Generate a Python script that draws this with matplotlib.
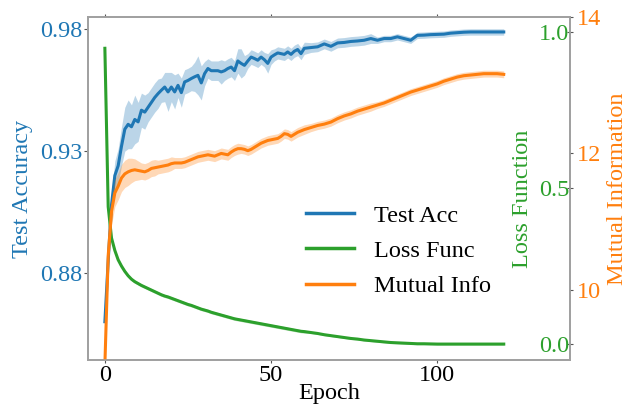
import matplotlib
matplotlib.use("Agg")
import matplotlib.pyplot as plt
import numpy as np

plt.rcParams['font.family'] = 'serif'
plt.rcParams['font.serif'] = ['Liberation Serif', 'DejaVu Serif']
plt.rcParams['mathtext.fontset'] = 'stix'

# ---- data ----
epochs = list(range(0, 61)) + list(range(62, 121, 2))

test_acc = [0.860, 0.885, 0.908, 0.920, 0.924, 0.932, 0.939, 0.941, 0.940, 0.943,
            0.942, 0.9468, 0.946, 0.948, 0.950, 0.952, 0.9536, 0.955, 0.9563, 0.9543,
            0.9563, 0.9543, 0.957, 0.954, 0.9584, 0.959, 0.9598, 0.9605, 0.9611, 0.958,
            0.9618, 0.9639, 0.963, 0.963, 0.963, 0.9625, 0.963, 0.9639, 0.9645, 0.963,
            0.967, 0.966, 0.9652, 0.967, 0.9686, 0.968, 0.9673, 0.9686, 0.9675, 0.966,
            0.9686, 0.9695, 0.9703, 0.970, 0.9697, 0.9707, 0.9697, 0.971, 0.9717, 0.970,
            0.9722,
            0.9725, 0.9728, 0.974, 0.973, 0.9744, 0.9746, 0.975, 0.9752, 0.9755, 0.9762,
            0.9755, 0.9762, 0.9762, 0.9769, 0.9762, 0.9755, 0.9775, 0.9776, 0.9778, 0.9779,
            0.978, 0.9784, 0.9786, 0.9788, 0.9789, 0.9789, 0.9789, 0.9789, 0.9789, 0.9789]

test_acc_err = [0.001, 0.003, 0.005, 0.006, 0.007, 0.008, 0.009, 0.010, 0.009, 0.010,
                0.008, 0.007, 0.007, 0.006, 0.006, 0.006, 0.006, 0.005, 0.006, 0.008,
                0.006, 0.007, 0.005, 0.006, 0.005, 0.005, 0.005, 0.006, 0.008, 0.007,
                0.005, 0.004, 0.004, 0.004, 0.004, 0.005, 0.004, 0.004, 0.004, 0.004,
                0.005, 0.006, 0.004, 0.003, 0.003, 0.003, 0.003, 0.003, 0.003, 0.004,
                0.003, 0.0025, 0.0025, 0.0025, 0.0025, 0.0025, 0.0025, 0.0025, 0.0025, 0.0025,
                0.0025,
                0.002, 0.002, 0.002, 0.002, 0.002, 0.002, 0.002, 0.002, 0.002, 0.002,
                0.0013, 0.0013, 0.0013, 0.0013, 0.0013, 0.0013, 0.0013, 0.0013, 0.0013, 0.0013,
                0.0013, 0.0013, 0.0013, 0.0013, 0.0013, 0.0013, 0.0013, 0.0013, 0.0013, 0.0013]

loss = [0.948, 0.44, 0.34, 0.30, 0.27, 0.25, 0.233, 0.219, 0.208, 0.200,
        0.194, 0.188, 0.183, 0.178, 0.173, 0.168, 0.163, 0.158, 0.154, 0.151,
        0.147, 0.143, 0.139, 0.135, 0.131, 0.127, 0.124, 0.120, 0.116, 0.112,
        0.109, 0.106, 0.102, 0.099, 0.096, 0.093, 0.090, 0.087, 0.084, 0.081,
        0.079, 0.077, 0.075, 0.073, 0.071, 0.069, 0.067, 0.065, 0.063, 0.061,
        0.059, 0.057, 0.055, 0.053, 0.051, 0.049, 0.047, 0.045, 0.043, 0.041,
        0.040,
        0.037, 0.034, 0.030, 0.027, 0.024, 0.021, 0.018, 0.016, 0.013, 0.011,
        0.009, 0.007, 0.005, 0.004, 0.003, 0.002, 0.001, 0.001, 0.0005, 0.0,
        0.0, 0.0, 0.0, 0.0, 0.0, 0.0, 0.0, 0.0, 0.0, 0.0]

loss_err = [0.025, 0.01] + [0.005] * 59 + [0.003] * 30

mutual_info = [8.9, 10.5, 11.15, 11.42, 11.52, 11.64, 11.70, 11.73, 11.75, 11.76,
               11.75, 11.74, 11.73, 11.75, 11.78, 11.79, 11.80, 11.81, 11.82, 11.83,
               11.85, 11.86, 11.86, 11.86, 11.87, 11.89, 11.91, 11.93, 11.95, 11.96,
               11.97, 11.98, 11.97, 11.96, 11.98, 12.00, 11.99, 11.98, 12.02, 12.05,
               12.07, 12.07, 12.06, 12.04, 12.06, 12.09, 12.12, 12.15, 12.17, 12.19,
               12.20, 12.21, 12.22, 12.25, 12.29, 12.28, 12.25, 12.28, 12.31, 12.33,
               12.35,
               12.38, 12.41, 12.43, 12.46, 12.51, 12.55, 12.58, 12.62, 12.65, 12.68,
               12.71, 12.74, 12.78, 12.82, 12.86, 12.90, 12.93, 12.96, 12.99, 13.02,
               13.06, 13.09, 13.12, 13.14, 13.15, 13.16, 13.17, 13.17, 13.17, 13.16]

mutual_info_err = ([0.05, 0.2, 0.2, 0.2, 0.2, 0.2, 0.2, 0.2, 0.18, 0.16, 0.14]
                   + [0.12] * 5 + [0.10] * 5 + [0.08] * 20 + [0.07] * 20
                   + [0.06] * 10 + [0.05] * 20)

acc_ticks = [0.88, 0.93, 0.98]
loss_ticks = [0.0, 0.5, 1.0]
mi_ticks = [10, 12, 14]
x_ticks = [0, 50, 100]

# ---- plot ----
C_BLUE = '#1f77b4'
C_GREEN = '#2ca02c'
C_ORANGE = '#ff7f0e'
SPINE = '#a0a0a0'
TICK = '#555555'
FS = 17.5

ep = np.array(epochs)
acc = np.array(test_acc); acc_e = np.array(test_acc_err)
ls = np.array(loss); ls_e = np.array(loss_err)
mi = np.array(mutual_info); mi_e = np.array(mutual_info_err)

fig = plt.figure(figsize=(6.28, 4.07), dpi=100)
ax = fig.add_axes([0.140, 0.1155, 0.768, 0.8425])
ax2 = ax.twinx()
ax3 = ax.twinx()

ax.fill_between(ep, acc - acc_e, acc + acc_e, color=C_BLUE, alpha=0.3, lw=0)
l1, = ax.plot(ep, acc, color=C_BLUE, lw=2.2, label='Test Acc')
ax2.fill_between(ep, ls - ls_e, ls + ls_e, color=C_GREEN, alpha=0.3, lw=0)
l2, = ax2.plot(ep, ls, color=C_GREEN, lw=2.2, label='Loss Func')
ax3.fill_between(ep, mi - mi_e, mi + mi_e, color=C_ORANGE, alpha=0.3, lw=0)
l3, = ax3.plot(ep, mi, color=C_ORANGE, lw=2.2, label='Mutual Info')

ax.set_xlim(-5.1, 140)
ax.set_ylim(0.8443, 0.985)
ax2.set_ylim(-0.051, 1.048)
ax3.set_ylim(8.97, 14.0)

ax.set_xticks(x_ticks)
ax.set_yticks(acc_ticks, labels=[f'{v:.2f}' for v in acc_ticks])
ax2.set_yticks(loss_ticks, labels=[f'{v:.1f}' for v in loss_ticks], ha='right')
ax3.set_yticks(mi_ticks, labels=[str(v) for v in mi_ticks])

for a in (ax, ax2, ax3):
    for s in a.spines.values():
        s.set_color(SPINE)
        s.set_linewidth(1.1)

ax.tick_params(axis='x', colors=TICK, labelcolor='black', labelsize=FS,
               length=2.5, width=0.8, top=True, direction='out', pad=1)
ax.tick_params(axis='y', colors=TICK, labelcolor=C_BLUE, labelsize=FS,
               length=3, width=0.8, pad=1)
ax2.tick_params(axis='y', colors=TICK, labelcolor=C_GREEN, labelsize=FS,
                direction='inout', length=4.5, width=0.8, pad=-3)
ax3.tick_params(axis='y', colors=TICK, labelcolor=C_ORANGE, labelsize=FS,
                direction='out', length=2.5, width=0.8, pad=2)

ax.set_xlabel('Epoch', fontsize=FS, labelpad=-2)
ax.set_ylabel('Test Accuracy', fontsize=FS, color=C_BLUE)
ax.yaxis.set_label_coords(-0.114, 0.5)
ax2.set_ylabel('Loss Function', fontsize=FS, color=C_GREEN)
ax2.yaxis.set_label_coords(0.880, 0.47)
ax3.set_ylabel('Mutual Information', fontsize=FS, color=C_ORANGE)
ax3.yaxis.set_label_coords(1.077, 0.5)

leg = ax3.legend(handles=[l1, l2, l3], loc='center', bbox_to_anchor=(0.643, 0.318),
                 frameon=False, fontsize=FS, handlelength=2.0, handletextpad=0.8,
                 labelspacing=0.55)
for h in leg.get_lines():
    h.set_linewidth(2.5)

fig.savefig('out.png', dpi=100)
